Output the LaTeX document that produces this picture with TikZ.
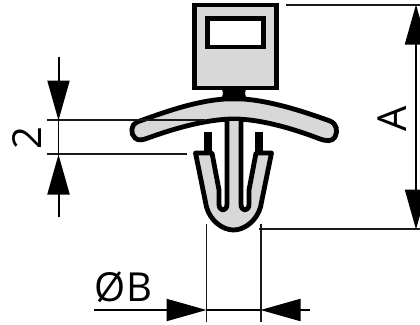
\documentclass[tikz,border=0pt]{standalone}
\usepackage{fontspec}
\setmainfont{Open Sans}
\usetikzlibrary{arrows.meta}
\definecolor{partgray}{RGB}{216,216,216}
\tikzset{
  outline/.style={draw=black,line width=4.8pt,line join=round},
  part/.style={outline,fill=partgray},
  ext/.style={draw=black!90,line width=1.7pt},
  dimline/.style={draw=black,line width=2pt,-{Triangle[length=40pt,width=22pt]},shorten >=-0.5pt},
  dimtext/.style={inner sep=0pt,font=\fontsize{40}{40}\selectfont},
}
\begin{document}
\begin{tikzpicture}[x=1pt,y=-1pt]
\useasboundingbox (0,0) rectangle (420,324);
\clip (0,0) rectangle (420,324);
% wing
\draw[part] (225,99) .. controls (195,101) and (165,112) .. (137,122)
  .. controls (131,124) and (130,134) .. (135,138)
  .. controls (138,141) and (143,140) .. (148,138)
  .. controls (170,130) and (205,119) .. (234,119)
  .. controls (262,119) and (297,130) .. (320,139)
  .. controls (326,141) and (332,142) .. (335,137)
  .. controls (338,131) and (337,124) .. (330,121)
  .. controls (305,112) and (272,101) .. (243,99) -- cycle;
% neck
\fill[black] (222,88) -- (246,88) -- (245,94) .. controls (245,97) and (247,98) .. (249,99)
  -- (219,99) .. controls (221,98) and (223,97) .. (223,94) -- cycle;
% head
\draw[part,line join=miter] (194.5,5) rectangle (276.5,88);
\draw[outline,fill=white,line join=miter] (207.8,18.2) rectangle (263.2,47);
% barbs
\fill[black] (204,132) rectangle (212,155);
\fill[black] (255,132) rectangle (263,155);
% body
\draw[part] (227,121) -- (227,204)
  .. controls (227,212) and (219,212) .. (219,204)
  -- (219,190) -- (212,153) -- (195.5,153)
  -- (206.5,207)
  .. controls (210,220) and (222,230) .. (233.5,230)
  .. controls (245,230) and (257,220) .. (260.5,207)
  -- (271.5,153) -- (256,153) -- (249,190) -- (249,204)
  .. controls (249,212) and (241,212) .. (241,204)
  -- (241,121);
% extension lines
\draw[ext] (47,120) -- (205,120);
\draw[ext] (47,154) -- (187,154);
\draw[ext] (286,5) -- (420,5);
\draw[ext] (259,229) -- (420,229);
\draw[ext] (206.5,224) -- (206.5,322);
\draw[ext] (261,224) -- (261,322);
% dimension 2
\coordinate (d2top) at (58.5,57);
\coordinate (d2a) at (58.5,120);
\coordinate (d2bot) at (58.5,217);
\coordinate (d2b) at (58.5,155);
\draw[dimline] (d2top) -- (d2a);
\draw[dimline] (d2bot) -- (d2b);
\draw[draw=black,line width=1.6pt] (d2a) -- (d2b);
% dimension A
\coordinate (dAtop) at (416,5);
\coordinate (dAbot) at (416,229);
\coordinate (dAmid) at (416,117);
\draw[dimline] (dAmid) -- (dAtop);
\draw[dimline] (dAmid) -- (dAbot);
% dimension B
\coordinate (dBl) at (94,310);
\coordinate (dBr) at (310,310);
\coordinate (dBa) at (206,310);
\coordinate (dBb) at (261,310);
\draw[dimline] (dBl) -- (dBa);
\draw[dimline] (dBr) -- (dBb);
\draw[draw=black,line width=1.6pt] (dBa) -- (dBb);
% labels
\node[dimtext,rotate=90] (labA) at (392,118.5) {A};
\node[dimtext,rotate=90] (lab2) at (27,138.5) {2};
\node[dimtext] (labB) at (123.5,287) {ØB};
\end{tikzpicture}
\end{document}
